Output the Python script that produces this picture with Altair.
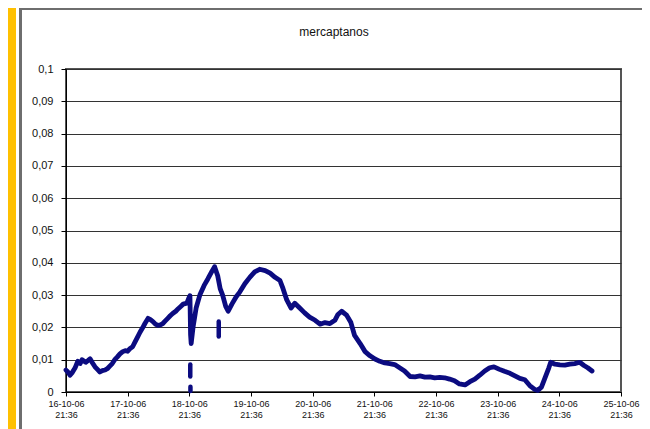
import altair as alt
import pandas as pd

START = pd.Timestamp("2006-10-16 21:36")

# main trace: elapsed days since 16-10-06 21:36 and mercaptanos value
a_days = [0.00, 0.03, 0.065, 0.10, 0.146, 0.19, 0.23, 0.26, 0.32, 0.36, 0.39, 0.43, 0.47, 0.51, 0.55,
          0.59, 0.63, 0.67, 0.71, 0.75, 0.79, 0.83, 0.875, 0.92, 0.96, 1.00, 1.04, 1.08, 1.12, 1.16,
          1.20, 1.24, 1.28, 1.33, 1.37, 1.41, 1.45, 1.49, 1.53, 1.57, 1.61, 1.65, 1.69, 1.73, 1.78,
          1.82, 1.86, 1.90, 1.96, 1.99, 2.01, 2.02, 2.03, 2.06, 2.11, 2.17, 2.24, 2.30, 2.37, 2.41,
          2.46, 2.50, 2.54, 2.59, 2.63, 2.69, 2.76, 2.82, 2.90, 2.98, 3.06, 3.14, 3.23, 3.31, 3.39,
          3.47, 3.52, 3.58, 3.65, 3.71, 3.79, 3.87, 3.95, 4.04, 4.12, 4.20, 4.28, 4.36, 4.41, 4.47,
          4.55, 4.62, 4.68, 4.77, 4.85, 4.93, 5.01, 5.09, 5.17, 5.25, 5.33, 5.41, 5.49, 5.58, 5.66,
          5.74, 5.82, 5.90, 5.98, 6.06, 6.14, 6.22, 6.30, 6.38, 6.47, 6.55, 6.63, 6.71, 6.79, 6.87,
          6.94, 7.03, 7.11, 7.20, 7.28, 7.36, 7.44, 7.52, 7.60, 7.65, 7.71, 7.76, 7.83, 7.86, 7.93,
          8.01, 8.09, 8.17, 8.25, 8.33, 8.40, 8.46, 8.53]
a_vals = [0.0068, 0.0062, 0.0052, 0.0060, 0.0074, 0.0095, 0.0088, 0.0100, 0.0092, 0.0098, 0.0103, 0.0090, 0.0078, 0.0070, 0.0062,
          0.0066, 0.0068, 0.0072, 0.0080, 0.0088, 0.0100, 0.0108, 0.0118, 0.0125, 0.0128, 0.0126, 0.0135, 0.0140, 0.0155, 0.0170,
          0.0185, 0.0198, 0.0212, 0.0228, 0.0224, 0.0218, 0.0210, 0.0206, 0.0208, 0.0212, 0.0220, 0.0228, 0.0236, 0.0243, 0.0250,
          0.0258, 0.0265, 0.0272, 0.0275, 0.0290, 0.0298, 0.0178, 0.0150, 0.0200, 0.0260, 0.0300, 0.0330, 0.0350, 0.0375, 0.0388,
          0.0360, 0.0320, 0.0300, 0.0265, 0.0250, 0.0272, 0.0295, 0.0310, 0.0335, 0.0355, 0.0372, 0.0380, 0.0376, 0.0368, 0.0355,
          0.0345, 0.0320, 0.0285, 0.0260, 0.0275, 0.0260, 0.0245, 0.0232, 0.0222, 0.0210, 0.0215, 0.0212, 0.0222, 0.0240, 0.0250,
          0.0238, 0.0215, 0.0175, 0.0150, 0.0125, 0.0112, 0.0102, 0.0095, 0.0090, 0.0088, 0.0085, 0.0075, 0.0065, 0.0048, 0.0047,
          0.0050, 0.0046, 0.0047, 0.0044, 0.0045, 0.0044, 0.0040, 0.0035, 0.0025, 0.0022, 0.0032, 0.0040, 0.0052, 0.0065, 0.0075,
          0.0078, 0.0070, 0.0064, 0.0058, 0.0050, 0.0042, 0.0038, 0.0020, 0.0008, 0.0005, 0.0015, 0.0040, 0.0075, 0.0092, 0.0086,
          0.0084, 0.0083, 0.0086, 0.0088, 0.0092, 0.0082, 0.0075, 0.0065]

# isolated fragments of readings (time, upper value, lower value)
frag_days = [2.015, 2.018, 2.477]
frag_hi = [0.0085, 0.0016, 0.0218]
frag_lo = [0.0048, 0.0003, 0.0172]

y_ticks = [0, 0.01, 0.02, 0.03, 0.04, 0.05, 0.06, 0.07, 0.08, 0.09, 0.1]
x_tick_dates = [16, 17, 18, 19, 20, 21, 22, 23, 24, 25]
title_text = ["mercaptanos"]

df = pd.DataFrame({"t": [START + pd.to_timedelta(d, unit="D") for d in a_days], "v": a_vals})
df_frag = pd.DataFrame({"t": [START + pd.to_timedelta(d, unit="D") for d in frag_days],
                        "hi": frag_hi, "lo": frag_lo})

x_scale = alt.Scale(domain=[alt.DateTime(year=2006, month=10, date=16, hours=21, minutes=36),
                            alt.DateTime(year=2006, month=10, date=25, hours=21, minutes=36)])
y_scale = alt.Scale(domain=[0, 0.1], nice=False)

x_axis = alt.Axis(values=[alt.DateTime(year=2006, month=10, date=d, hours=21, minutes=36) for d in x_tick_dates],
                  labelExpr="[timeFormat(datum.value, '%d-%m-%y'), timeFormat(datum.value, '%H:%M')]",
                  labelFont="Liberation Sans", labelFontSize=9, labelLineHeight=11,
                  labelColor="#111", tickColor="#000", domainColor="#000", tickSize=4,
                  labelPadding=3, grid=False, labelAngle=0, labelOverlap=False,
                  labelFlush=False)
y_axis = alt.Axis(values=y_ticks, labelExpr="replace(format(datum.value, '~g'), '.', ',')",
                  labelFont="Liberation Sans", labelFontSize=11, labelColor="#111",
                  tickColor="#000", domainColor="#000", tickSize=5, labelPadding=8,
                  grid=True, gridColor="#333", gridWidth=1)

NAVY = "#0b0b80"

line = alt.Chart(df).mark_line(color=NAVY, strokeWidth=4.8, strokeJoin="round", strokeCap="round").encode(
    x=alt.X("t:T", scale=x_scale, title=None, axis=x_axis),
    y=alt.Y("v:Q", scale=y_scale, title=None, axis=y_axis),
)

frags = alt.Chart(df_frag).mark_rule(color=NAVY, strokeWidth=4.5, strokeCap="round").encode(
    x=alt.X("t:T", scale=x_scale, title=None, axis=x_axis),
    y=alt.Y("hi:Q", scale=y_scale, title=None, axis=y_axis),
    y2="lo:Q",
)

deco = alt.Data(values=[{}])
orange = alt.Chart(deco).mark_rect(color="#FFC000").encode(
    x=alt.value(-60), x2=alt.value(-50), y=alt.value(-62), y2=alt.value(362))
gray_v = alt.Chart(deco).mark_rect(color="#6e6e6e").encode(
    x=alt.value(-47), x2=alt.value(-44), y=alt.value(-62), y2=alt.value(362))
gray_h = alt.Chart(deco).mark_rect(color="#6e6e6e").encode(
    x=alt.value(-47), x2=alt.value(600), y=alt.value(-62), y2=alt.value(-59))
title = alt.Chart(alt.Data(values=[{"txt": t} for t in title_text])).mark_text(
    font="Liberation Sans", fontSize=12, color="#111", align="center", baseline="middle").encode(
    text="txt:N", x=alt.value(268), y=alt.value(-37))

chart = alt.layer(orange, gray_v, gray_h, title, line, frags).properties(
    width=555, height=323,
    autosize=alt.AutoSizeParams(type="none"),
    padding={"left": 58, "top": 61, "right": 21, "bottom": 37},
    background="white",
).configure_view(stroke="#555", strokeWidth=2)

chart.save("out.html", embed_options={"renderer": "svg", "actions": False})
